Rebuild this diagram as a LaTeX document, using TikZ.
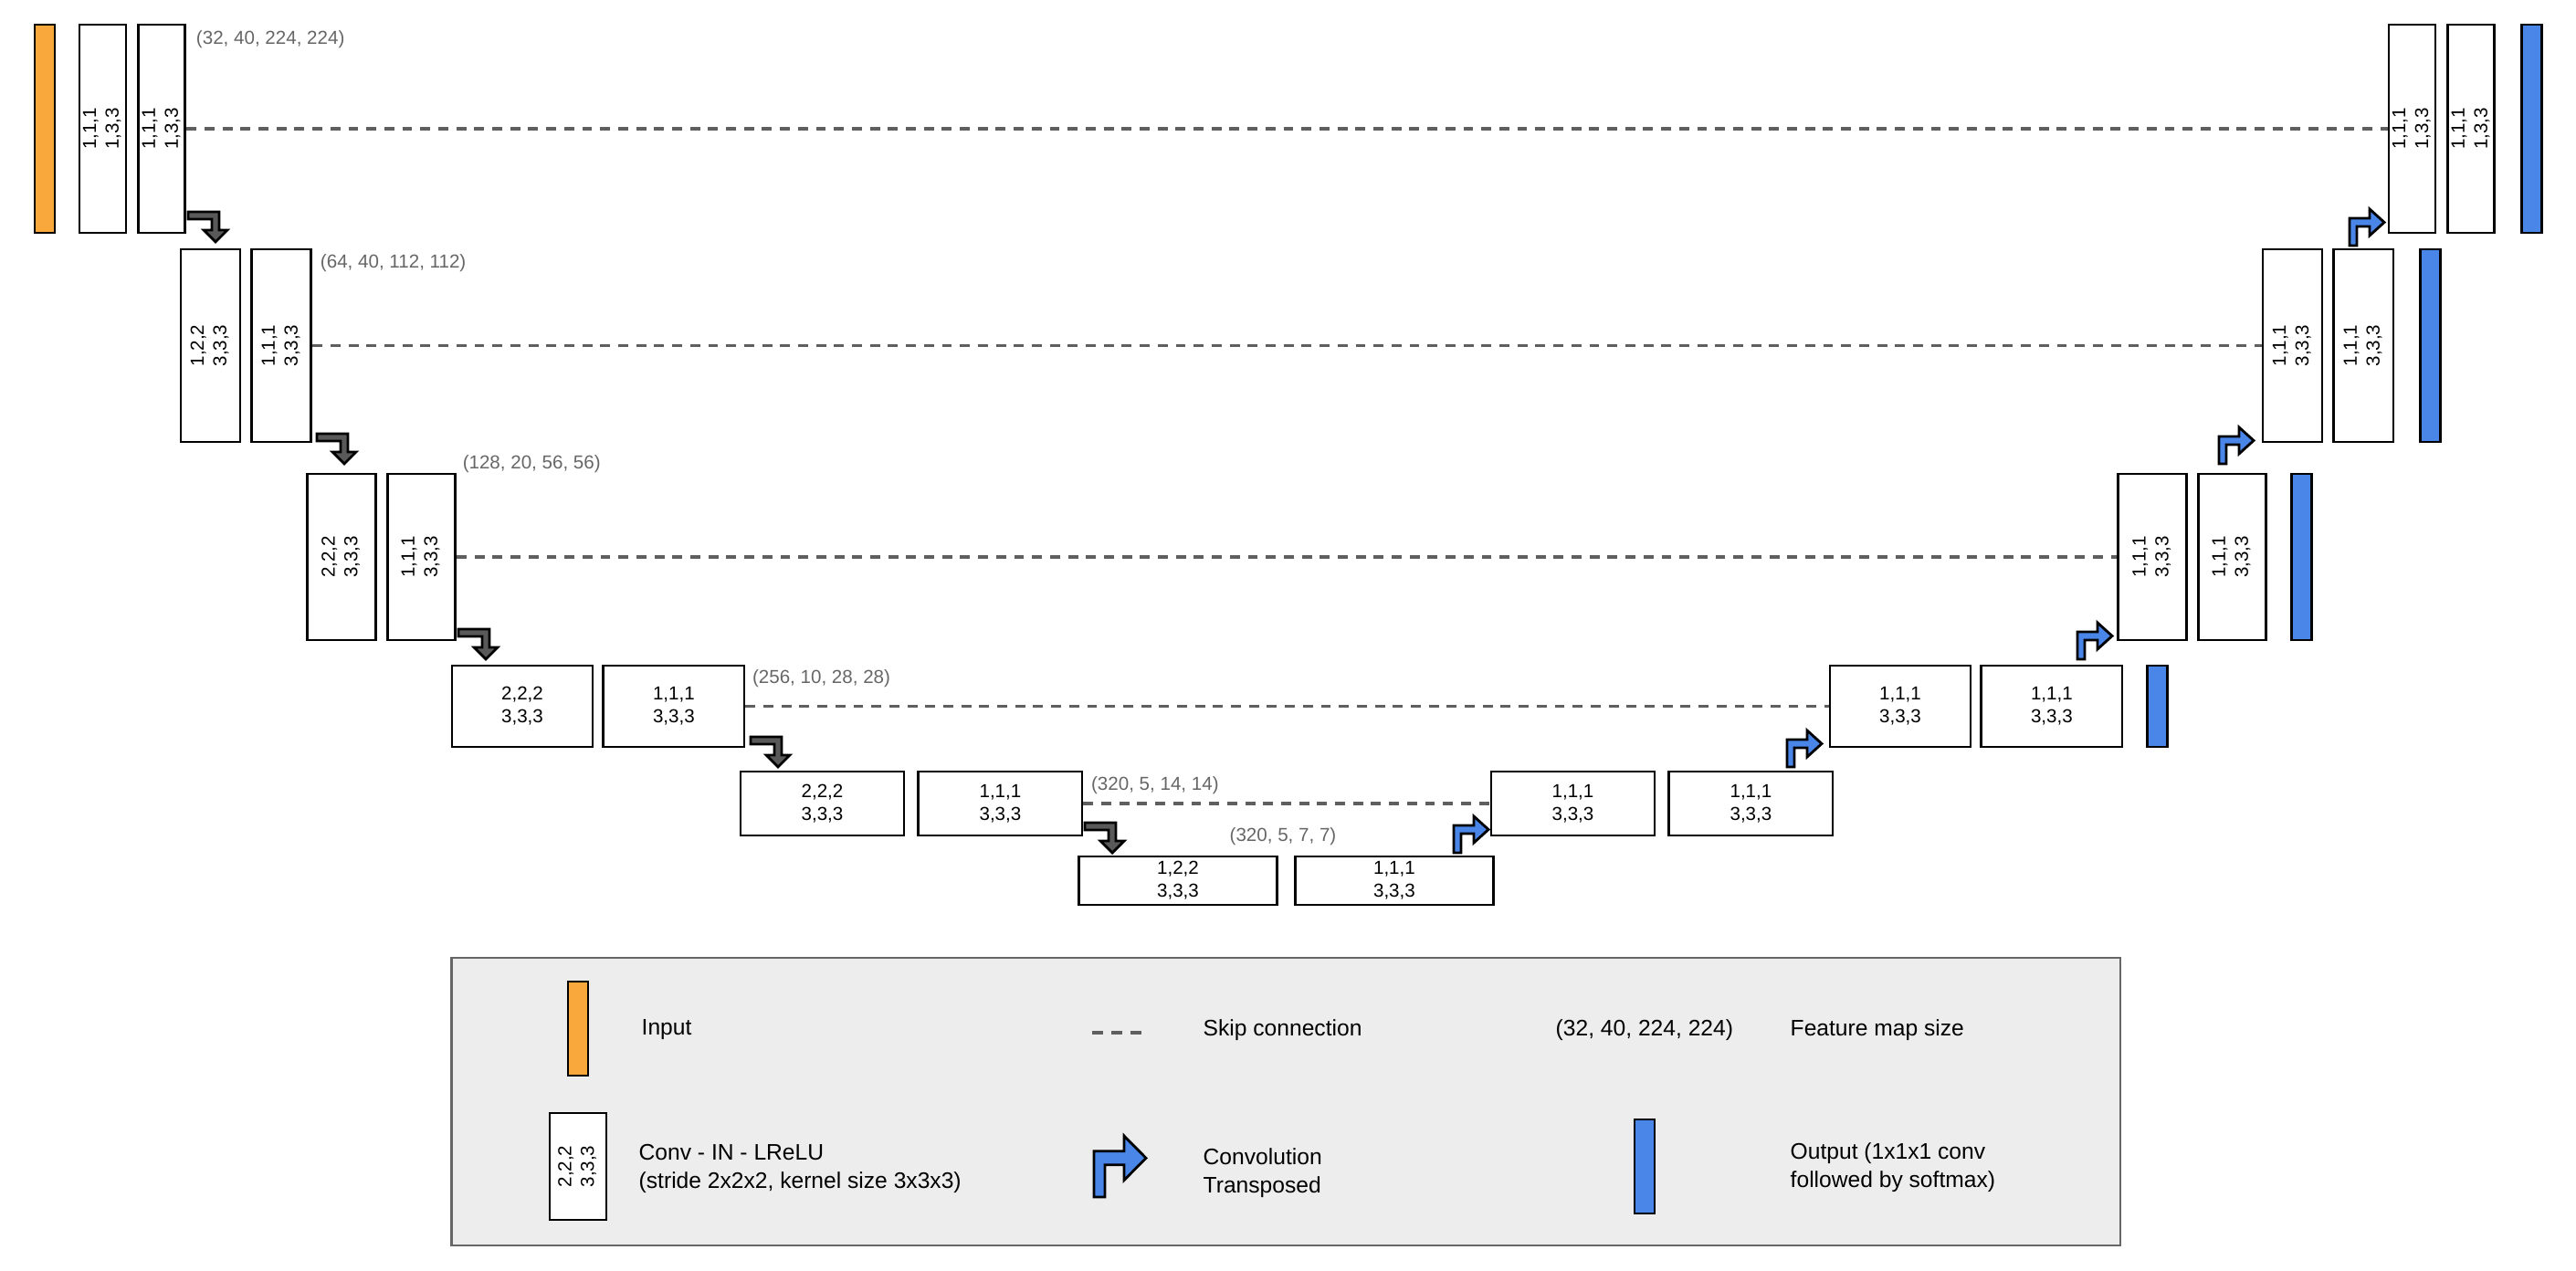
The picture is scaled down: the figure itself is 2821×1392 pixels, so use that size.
\documentclass[tikz,border=0pt]{standalone}
\usepackage{fontspec}
\setmainfont{Liberation Sans}
\usepackage{graphicx}
\usetikzlibrary{positioning}

\definecolor{inorange}{HTML}{F9A83C}
\definecolor{outblue}{HTML}{4A86E8}
\definecolor{arrgray}{HTML}{595959}
\definecolor{dimgray}{HTML}{666666}
\definecolor{skipgray}{HTML}{5F5F5F}
\definecolor{legfill}{HTML}{EDEDED}
\definecolor{legdraw}{HTML}{666666}

\newcommand{\blkfont}{\fontsize{5.85}{7.1}\selectfont}
\newcommand{\keyfont}{\fontsize{7}{8.8}\selectfont}
\newcommand{\vtxt}[2]{\rotatebox{90}{\begin{tabular}{@{}c@{}}#1\\#2\end{tabular}}}

\begin{document}
\begin{tikzpicture}[x=0.01cm, y=-0.01cm,
  conv/.style={draw=black, line width=0.8pt, fill=white, inner sep=0pt, align=center, font=\blkfont},
  l0/.style={conv, minimum width=0.51cm, minimum height=2.28cm},
  l1/.style={conv, minimum width=0.65cm, minimum height=2.11cm},
  l2/.style={conv, minimum width=0.745cm, minimum height=1.82cm},
  l3/.style={conv, minimum width=1.54cm, minimum height=0.89cm},
  l4/.style={conv, minimum width=1.79cm, minimum height=0.70cm},
  l5/.style={conv, minimum width=2.17cm, minimum height=0.53cm},
  inbar/.style={draw=black, line width=0.8pt, fill=inorange, inner sep=0pt, minimum width=0.22cm},
  outbar/.style={draw=black, line width=0.8pt, fill=outblue, inner sep=0pt, minimum width=0.22cm},
  skipline/.style={draw=skipgray, line width=0.9pt, dash pattern=on 3.1pt off 2.5pt},
  dimlbl/.style={font=\blkfont, text=dimgray, inner sep=0pt, anchor=west},
  keytxt/.style={font=\keyfont, inner sep=0pt, anchor=west, align=left},
  darr/.style={draw=black, line width=0.8pt, fill=arrgray, line join=miter},
  uarr/.style={draw=black, line width=0.8pt, fill=outblue, line join=miter},
  legend/.style={draw=legdraw, line width=0.6pt, fill=legfill, inner sep=0pt},
  pics/godown/.style={code={
    \draw[darr] (0,0) -- (34,0) -- (34,20) -- (43,20) -- (30,33) -- (17,20) -- (26,20) -- (26,8) -- (0,8) -- cycle;
  }},
  pics/goup/.style={code={
    \draw[uarr] (0,0) -- (0,-30) -- (22,-30) -- (22,-40) -- (38,-25.5) -- (22,-11) -- (22,-21) -- (8,-21) -- (8,0) -- cycle;
  }},
]
\useasboundingbox (0,0) rectangle (2821,1392);

% ---------- Encoder ----------
\node[inbar, minimum height=2.28cm] (inp) at (49,141) {};
\node[l0] (e0a) at (112.5,141) {\vtxt{1,1,1}{1,3,3}};
\node[l0, right=0.11cm of e0a] (e0b) {\vtxt{1,1,1}{1,3,3}};
\node[l1] (e1a) at (230.5,378.5) {\vtxt{1,2,2}{3,3,3}};
\node[l1, right=0.10cm of e1a] (e1b) {\vtxt{1,1,1}{3,3,3}};
\node[l2] (e2a) at (374,610) {\vtxt{2,2,2}{3,3,3}};
\node[l2, right=0.10cm of e2a] (e2b) {\vtxt{1,1,1}{3,3,3}};
\node[l3] (e3a) at (572,773.5) {2,2,2\\3,3,3};
\node[l3, right=0.09cm of e3a] (e3b) {1,1,1\\3,3,3};
\node[l4] (e4a) at (900.5,880) {2,2,2\\3,3,3};
\node[l4, right=0.13cm of e4a] (e4b) {1,1,1\\3,3,3};

% ---------- Bottleneck ----------
\node[l5] (b5a) at (1290,964.5) {1,2,2\\3,3,3};
\node[l5, right=0.17cm of b5a] (b5b) {1,1,1\\3,3,3};

% ---------- Decoder ----------
\node[l4] (d4a) at (1722.5,880) {1,1,1\\3,3,3};
\node[l4, right=0.13cm of d4a] (d4b) {1,1,1\\3,3,3};
\node[l3] (d3a) at (2081,773.5) {1,1,1\\3,3,3};
\node[l3, right=0.09cm of d3a] (d3b) {1,1,1\\3,3,3};
\node[outbar, minimum height=0.89cm, right=0.25cm of d3b] (o3) {};
\node[l2] (d2a) at (2357,610) {\vtxt{1,1,1}{3,3,3}};
\node[l2, right=0.10cm of d2a] (d2b) {\vtxt{1,1,1}{3,3,3}};
\node[outbar, minimum height=1.82cm, right=0.25cm of d2b] (o2) {};
\node[l1] (d1a) at (2510.5,378.5) {\vtxt{1,1,1}{3,3,3}};
\node[l1, right=0.10cm of d1a] (d1b) {\vtxt{1,1,1}{3,3,3}};
\node[outbar, minimum height=2.11cm, right=0.27cm of d1b] (o1) {};
\node[l0] (d0a) at (2641.5,141) {\vtxt{1,1,1}{1,3,3}};
\node[l0, right=0.11cm of d0a] (d0b) {\vtxt{1,1,1}{1,3,3}};
\node[outbar, minimum height=2.28cm, right=0.27cm of d0b] (o0) {};

% ---------- Skip connections ----------
\draw[skipline] (e0b.east) -- (d0a.west);
\draw[skipline] (e1b.east) -- (d1a.west);
\draw[skipline] (e2b.east) -- (d2a.west);
\draw[skipline] (e3b.east) -- (d3a.west);
\draw[skipline] (e4b.east) -- (d4a.west);

% ---------- Feature map sizes ----------
\node[dimlbl] (s0) at ([xshift=0.10cm, yshift=-0.18cm]e0b.north east) {(32, 40, 224, 224)};
\node[dimlbl] (s1) at ([xshift=0.08cm, yshift=-0.17cm]e1b.north east) {(64, 40, 112, 112)};
\node[dimlbl] (s2) at ([xshift=0.06cm, yshift=0.09cm]e2b.north east) {(128, 20, 56, 56)};
\node[dimlbl] (s3) at ([xshift=0.07cm, yshift=-0.16cm]e3b.north east) {(256, 10, 28, 28)};
\node[dimlbl] (s4) at ([xshift=0.08cm, yshift=-0.17cm]e4b.north east) {(320, 5, 14, 14)};
\node[dimlbl, anchor=center] (s5) at ([xshift=0.05cm, yshift=0.20cm]b5a.north east) {(320, 5, 7, 7)};

% ---------- Down / up arrows ----------
\pic at (206,232) {godown};
\pic at (347,475) {godown};
\pic at (502,689) {godown};
\pic at (822,807) {godown};
\pic at (1188,901) {godown};
\pic at (1592,934) {goup};
\pic at (1957,840) {goup};
\pic at (2275,722) {goup};
\pic at (2430,508) {goup};
\pic at (2573,269) {goup};

% ---------- Legend ----------
\node[legend, minimum width=18.26cm, minimum height=3.15cm] (key) at (1408,1206.5) {};
\node[inbar, minimum height=1.03cm] (kin) at (633,1126.5) {};
\node[keytxt] (kintxt) at (702,1128) {Input};
\node[conv, minimum width=0.62cm, minimum height=1.17cm] (kconv) at (633,1277.5) {\vtxt{2,2,2}{3,3,3}};
\node[keytxt] (kconvtxt) at (699,1279.5) {Conv - IN - LReLU\\(stride 2x2x2, kernel size 3x3x3)};
\coordinate (kskipa) at (1196,1131);
\coordinate (kskipb) at (1250,1131);
\draw[skipline, dash pattern=on 3.5pt off 2.4pt] (kskipa) -- (kskipb);
\node[keytxt] (kskiptxt) at (1317,1128) {Skip connection};
\pic[xscale=1.5, yscale=1.675] at (1198,1311) {goup};
\node[keytxt] (kuptxt) at (1317,1284.5) {Convolution\\Transposed};
\node[keytxt] (kdim) at (1703,1128) {(32, 40, 224, 224)};
\node[keytxt] (kdimtxt) at (1960,1128) {Feature map size};
\node[outbar, minimum height=1.03cm] (kout) at (1801,1277.5) {};
\node[keytxt] (kouttxt) at (1960,1279) {Output (1x1x1 conv\\followed by softmax)};

\end{tikzpicture}
\end{document}
